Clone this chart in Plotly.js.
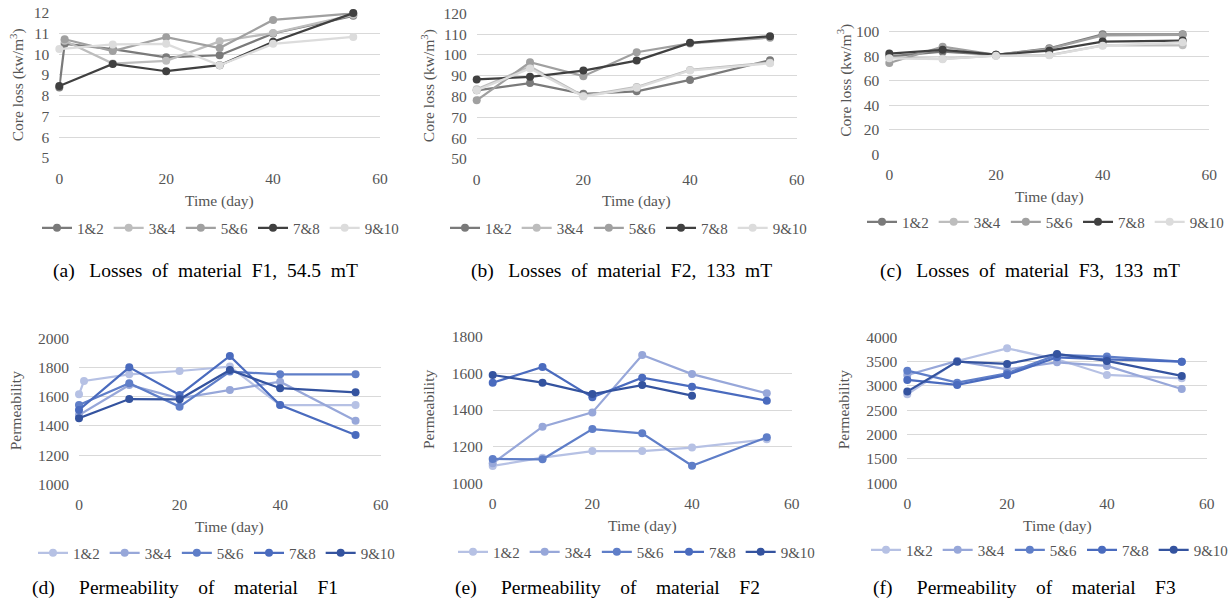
<!DOCTYPE html>
<html><head><meta charset="utf-8">
<script src="https://cdn.plot.ly/plotly-3.0.1.min.js"></script>
<style>html,body{margin:0;padding:0;background:#fff}#chart{width:1231px;height:607px}</style>
</head><body><div id="chart"></div>
<script>
// ---------- data ----------
const seriesNames = ["1&2","3&4","5&6","7&8","9&10"];
const days = [0,10,20,30,40,55];
const daysWithDay1 = [0,1,10,20,30,40,55];
const daysFromDay1 = [1,10,20,30,40,55];
const daysTo40 = [0,10,20,30,40];

// (a) losses F1, 54.5 mT
const lossF1_12 = [8.4,10.5,10.25,9.85,9.95,11.0,11.85];
const lossF1_34 = [10.65,9.55,9.68,10.62,11.02,11.9];
const lossF1_56 = [10.72,10.15,10.82,10.3,11.65,11.97];
const lossF1_78 = [8.47,9.53,9.18,9.47,10.6,11.98];
const lossF1_910 = [10.25,10.47,10.5,9.47,10.5,10.83];
// (b) losses F2, 133 mT
const lossF2_12 = [83,86.5,81.3,82.5,88,97.5];
const lossF2_34 = [83.5,94.4,80.3,84.6,92.8,96.3];
const lossF2_56 = [78.2,96.5,89.8,101.3,105.5,108.3];
const lossF2_78 = [88.2,89.5,92.5,97.3,105.8,109];
const lossF2_910 = [83,93.5,80,84.2,92.5,96];
// (c) losses F3, 133 mT
const lossF3_12 = [80,83.8,81.2,86.5,98,98];
const lossF3_34 = [79,78,80.5,81,89,89];
const lossF3_56 = [74.5,87.8,81.2,86,97,97.5];
const lossF3_78 = [82.2,85.3,81.3,84.6,92,92.8];
const lossF3_910 = [78.4,77.6,80.5,80.8,88.7,91.4];
// (d) permeability F1
const permF1_12 = [1616,1708,1753,1776,1806,1543,1543];
const permF1_34 = [1475,1680,1589,1646,1703,1436];
const permF1_56 = [1543,1692,1532,1772,1753,1753];
const permF1_78 = [1509,1801,1612,1879,1543,1338];
const permF1_910 = [1452,1584,1582,1783,1658,1630];
// (e) permeability F2
const permF2_12 = [1095,1140,1176,1176,1195,1240];
const permF2_34 = [1109,1309,1387,1700,1596,1491];
const permF2_56 = [1133,1131,1296,1273,1096,1251];
const permF2_78 = [1549,1635,1469,1576,1527,1451];
const permF2_910 = [1591,1549,1487,1536,1478];
// (f) permeability F3
const permF3_12 = [2829,3514,3774,3548,3226,3158];
const permF3_34 = [3226,3514,3342,3486,3411,2938];
const permF3_56 = [3315,3068,3260,3637,3603,3500];
const permF3_78 = [3123,3021,3226,3589,3548,3500];
const permF3_910 = [2884,3500,3452,3658,3514,3206];

const captionWords = [
  ["(a)","Losses","of","material","F1,","54.5","mT"],
  ["(b)","Losses","of","material","F2,","133","mT"],
  ["(c)","Losses","of","material","F3,","133","mT"],
  ["(d)","Permeability","of","material","F1"],
  ["(e)","Permeability","of","material","F2"],
  ["(f)","Permeability","of","material","F3"]
];
const yTitles = ["Core loss (kw/m<sup>3</sup>)","Core loss (kw/m<sup>3</sup>)","Core loss (kw/m<sup>3</sup>)","Permeability","Permeability","Permeability"];
const xTitle = "Time (day)";

// ---------- styling ----------
const grays = ["#7a7a7a","#bdbdbd","#a0a0a0","#404040","#dcdcdc"];
const blues = ["#b6c1e4","#97a7d9","#5f7ec8","#4a6bbe","#34539f"];
const W = 1231, H = 607;
const FONT = "Liberation Serif, Times New Roman, serif";
const TXT = "#555555";

// panel pixel boxes: [left, right, top, bottom]
const boxes = [
  [59.3,380,12.7,158],
  [476.7,796.7,13.3,159],
  [889.3,1209.3,7.3,154.3],
  [79,380.7,338.3,484.3],
  [492.7,791.7,336.7,483.3],
  [907.3,1206.7,337.3,483.3]
];
const yRanges = [[5,12],[50,120],[0,120],[1000,2000],[1000,1800],[1000,4000]];
const yDticks = [1,10,20,200,200,500];
const xLabelY = [201,201,197,527,526,526];
const yTitleX = [17,428,845,15,428,843];
const legendY = [228,228,222,553,552,550];
const legendLeft = [37,445,862,33,453,866];
const captionCx = [205,621,1030,185,607,1024];
const captionY = [271,271,271,588,588,588];
const captionGap = [2,2,2,4,4,4];

const panels = [
  {xs:[daysWithDay1,daysFromDay1,daysFromDay1,days,days], ys:[lossF1_12,lossF1_34,lossF1_56,lossF1_78,lossF1_910], colors:grays},
  {xs:[days,days,days,days,days], ys:[lossF2_12,lossF2_34,lossF2_56,lossF2_78,lossF2_910], colors:grays},
  {xs:[days,days,days,days,days], ys:[lossF3_12,lossF3_34,lossF3_56,lossF3_78,lossF3_910], colors:grays},
  {xs:[daysWithDay1,days,days,days,days], ys:[permF1_12,permF1_34,permF1_56,permF1_78,permF1_910], colors:blues},
  {xs:[days,days,days,days,daysTo40], ys:[permF2_12,permF2_34,permF2_56,permF2_78,permF2_910], colors:blues},
  {xs:[days,days,days,days,days], ys:[permF3_12,permF3_34,permF3_56,permF3_78,permF3_910], colors:blues}
];

const traces = [];
const layout = {
  width: W, height: H, margin:{l:0,r:0,t:0,b:0,autoexpand:false},
  paper_bgcolor:"#fff", plot_bgcolor:"rgba(0,0,0,0)",
  font:{family:FONT, size:15.5, color:TXT},
  showlegend:true, annotations:[]
};

panels.forEach((p, i) => {
  const n = i + 1;
  const xa = n === 1 ? "x" : "x" + n;
  const ya = n === 1 ? "y" : "y" + n;
  const lg = n === 1 ? "legend" : "legend" + n;
  const b = boxes[i];
  seriesNames.forEach((name, k) => {
    traces.push({
      type:"scatter", mode:"lines+markers", name:name,
      x:p.xs[k], y:p.ys[k], xaxis:xa, yaxis:ya, legend:lg,
      line:{color:p.colors[k], width:2.25},
      marker:{color:p.colors[k], size:8},
      cliponaxis:false, hoverinfo:"skip"
    });
  });
  layout[(n===1?"xaxis":"xaxis"+n)] = {
    domain:[b[0]/W, b[1]/W], anchor:ya, range:[0,60], dtick:20, tick0:0,
    showgrid:false, zeroline:false, showline:false, ticks:"", automargin:false,
    ticklabelstandoff:9, tickfont:{family:FONT,size:15.5,color:TXT}, fixedrange:true
  };
  layout[(n===1?"yaxis":"yaxis"+n)] = {
    domain:[1-b[3]/H, 1-b[2]/H], anchor:xa, range:yRanges[i], dtick:yDticks[i], tick0:0,
    showgrid:true, gridcolor:"#d9d9d9", gridwidth:1, zeroline:false, showline:false, ticks:"", automargin:false,
    ticklabelstandoff:9, tickfont:{family:FONT,size:15.5,color:TXT}, fixedrange:true
  };
  layout[lg] = {
    orientation:"h", xref:"paper", yref:"paper",
    x:legendLeft[i]/W, xanchor:"left", y:1-legendY[i]/H, yanchor:"middle",
    font:{family:FONT,size:15,color:TXT}, bgcolor:"rgba(0,0,0,0)",
    itemwidth:30, tracegroupgap:0
  };
  layout.annotations.push({
    xref:"paper", yref:"paper", x:((b[0]+b[1])/2)/W, y:1-xLabelY[i]/H,
    text:xTitle, showarrow:false, xanchor:"center", yanchor:"middle",
    font:{family:FONT,size:15.5,color:TXT}
  });
  layout.annotations.push({
    xref:"paper", yref:"paper", x:yTitleX[i]/W, y:1-((b[2]+b[3])/2)/H,
    text:yTitles[i], showarrow:false, textangle:-90, xanchor:"center", yanchor:"middle",
    font:{family:FONT,size:15.5,color:TXT}
  });
  const w = captionWords[i];
  const gap = "\u00a0".repeat(captionGap[i]);
  const capText = w[0] + gap + "\u00a0" + w.slice(1).join(gap);
  layout.annotations.push({
    xref:"paper", yref:"paper", x:captionCx[i]/W, y:1-captionY[i]/H,
    text:capText, showarrow:false, xanchor:"center", yanchor:"middle",
    font:{family:FONT,size:19.5,color:"#000"}
  });
});

Plotly.newPlot("chart", traces, layout, {staticPlot:true, displayModeBar:false});
</script></body></html>
